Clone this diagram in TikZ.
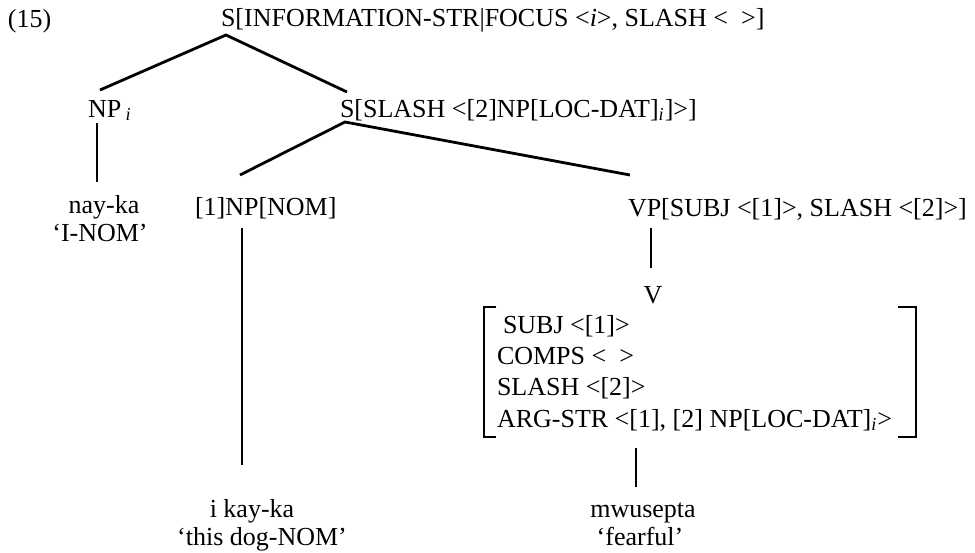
\documentclass[tikz,border=0pt]{standalone}
\usepackage{fontspec}
\setmainfont{Liberation Serif}
\usetikzlibrary{calc}
\begin{document}
\begin{tikzpicture}[x=0.5pt,y=-0.5pt,
  every node/.style={inner sep=0pt,outer sep=0pt,font=\fontsize{13}{14}\selectfont},
  branch/.style={line width=1.4pt},
  stem/.style={line width=0.9pt},
  brk/.style={line width=1pt}]
\useasboundingbox (0,0) rectangle (975,552);
% labels
\node[anchor=base west] (ex) at (8,27) {(15)};
\node[anchor=base west] (top) at (221,26) {S[INFORMATION-STR|FOCUS <\textit{i}>, SLASH <\ \ >]};
\node[anchor=base west] (npi) at (88,117) {NP\,\textsubscript{\textit{i}}};
\node[anchor=base west] (sslash) at (340,117) {S[SLASH <[2]NP[LOC-DAT]\textsubscript{\textit{i}}]>]};
\node[anchor=base] (nayka) at (104,213) {nay-ka};
\node[anchor=base] (inom) at (100,241) {‘I-NOM’};
\node[anchor=base west] (npnom) at (195,215) {[1]NP[NOM]};
\node[anchor=base west] (vp) at (628,216) {VP[SUBJ <[1]>, SLASH <[2]>]};
\node[anchor=base] (v) at (653,303) {V};
\node[anchor=north west,align=left,font=\fontsize{13}{15.7}\selectfont] (avm) at (497,313)
  {\rule{0pt}{10pt}\hspace*{3pt}SUBJ <[1]>\\COMPS <\ \ >\\SLASH <[2]>\\ARG-STR <[1], [2] NP[LOC-DAT]\textsubscript{\textit{i}}>\rule[-4pt]{0pt}{4pt}};
\node[anchor=base] (ikayka) at (252,517) {i kay-ka};
\node[anchor=base] (dog) at (262,545) {‘this dog-NOM’};
\node[anchor=base] (mwu) at (643,517) {mwusepta};
\node[anchor=base] (fear) at (640,545) {‘fearful’};
% branching points
\coordinate (topA) at ($(top.base west)+(5,9)$);
\coordinate (sA) at ($(sslash.base west)+(5,5)$);
\draw[branch] ($(npi.base west)+(12,-27)$) -- (topA) -- ($(sslash.base west)+(7,-25)$);
\draw[branch] ($(npnom.base west)+(45,-40)$) -- (sA) -- ($(vp.base west)+(2,-41)$);
% stems
\coordinate (a1) at ($(npi.base west)+(9,6)$);
\coordinate (a2) at ($(nayka.base)+(0,-31)$);
\draw[stem] (a1) -- (a1 |- a2);
\coordinate (b1) at ($(npnom.base west)+(47,13)$);
\coordinate (b2) at ($(ikayka.base)+(0,-52)$);
\draw[stem] (b1) -- (b1 |- b2);
\coordinate (c1) at ($(vp.base west)+(23,12)$);
\coordinate (c2) at ($(v.base)+(0,-35)$);
\draw[stem] (c1) -- (c1 |- c2);
\coordinate (d1) at ($(avm.south west)+(139,13)$);
\coordinate (d2) at ($(mwu.base)+(0,-30)$);
\draw[stem] (d1) -- (d1 |- d2);
% AVM brackets
\coordinate (lt) at ($(avm.north west)+(-13,-6)$);
\coordinate (lb) at ($(avm.south west)+(-13,2)$);
\coordinate (rt) at ($(avm.north east)+(24,-6)$);
\coordinate (rb) at ($(avm.south east)+(24,2)$);
\draw[brk] ($(lt)+(12,0)$) -- (lt) -- (lt |- lb) -- ($(lt |- lb)+(12,0)$);
\draw[brk] ($(rt)+(-18,0)$) -- (rt) -- (rt |- rb) -- ($(rt |- rb)+(-18,0)$);
\end{tikzpicture}
\end{document}
